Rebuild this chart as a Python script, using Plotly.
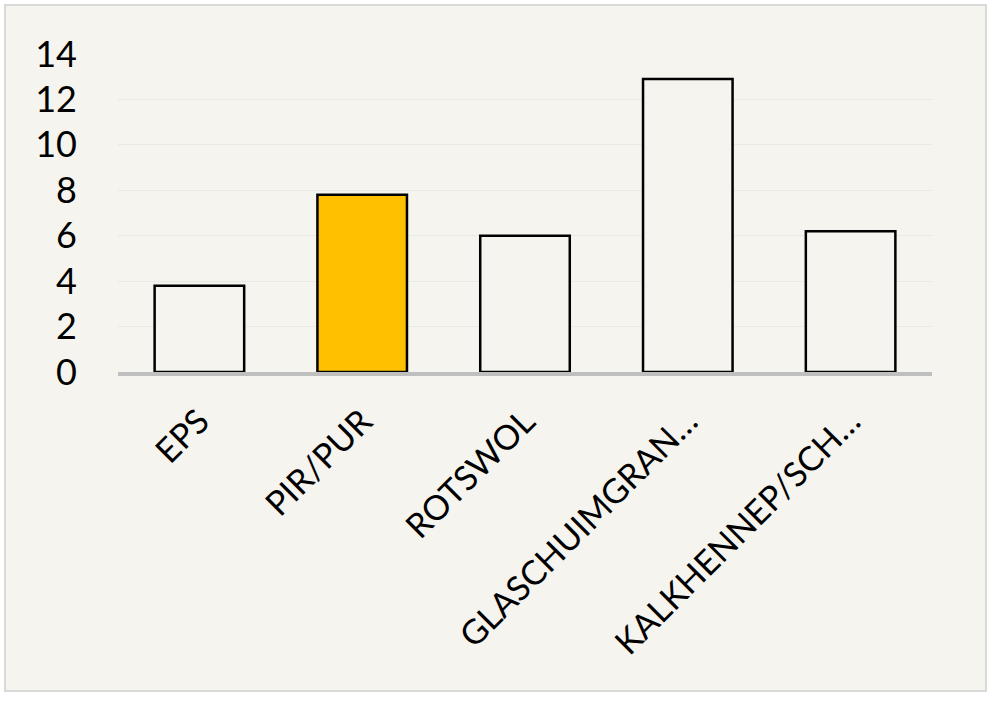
import plotly.graph_objects as go

categories = ["EPS", "PIR/PUR", "ROTSWOL", "GLASCHUIMGRAN…", "KALKHENNEP/SCH…"]
values = [3.8, 7.8, 6.0, 12.9, 6.2]
bar_colors = ["#F5F4EF", "#FFC000", "#F5F4EF", "#F5F4EF", "#F5F4EF"]
y_ticks = [0, 2, 4, 6, 8, 10, 12, 14]

W, H = 990, 701
L, R, T, B = 118, 58, 54, 329
pw, ph = W - L - R, H - T - B

fig = go.Figure(go.Bar(
    x=categories, y=values,
    marker=dict(color=bar_colors, line=dict(color="#000000", width=2.5)),
    width=0.55,
))

def px_x(p):
    return (p - L) / pw

def px_y(p):
    return (H - B - p) / ph

fig.add_shape(type="rect", xref="paper", yref="paper",
              x0=px_x(5), x1=px_x(986), y0=px_y(691), y1=px_y(5),
              fillcolor="#F5F4EF", line=dict(color="#D9D9D9", width=2),
              layer="below")

fig.update_layout(
    width=W, height=H,
    margin=dict(l=L, r=R, t=T, b=B, pad=0),
    paper_bgcolor="#FFFFFF",
    plot_bgcolor="rgba(0,0,0,0)",
    showlegend=False,
    font=dict(family="Lato, Open Sans, sans-serif", color="#000000"),
    xaxis=dict(
        tickangle=-45, tickfont=dict(size=34),
        showline=True, linecolor="#BFBFBF", linewidth=4,
        showgrid=False, ticks="", ticklabelstandoff=12,
        range=[-0.5, 4.5],
    ),
    yaxis=dict(
        range=[0, 14], tickvals=y_ticks, tickfont=dict(size=36),
        showgrid=True, gridcolor="#EAEAE4", gridwidth=1,
        zeroline=False, showline=False, ticks="",
        ticklabelstandoff=40,
    ),
)

fig.write_html(
    "out.html",
    config={"displayModeBar": False},
    post_script="document.body.style.margin='0';document.body.style.overflow='hidden';",
)
